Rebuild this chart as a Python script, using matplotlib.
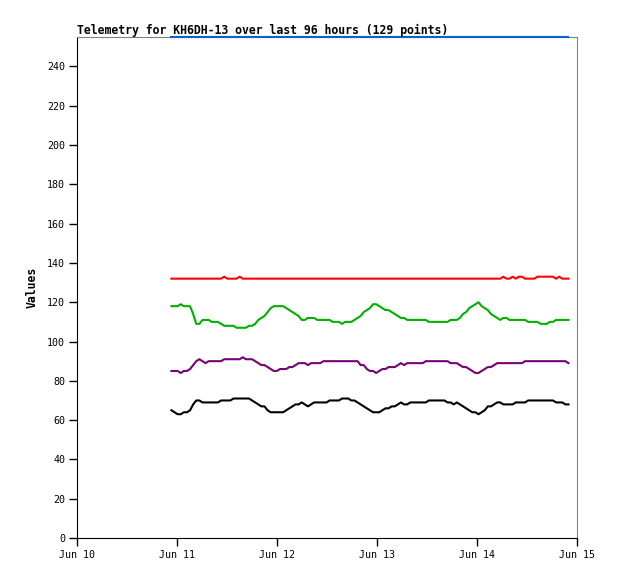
import matplotlib
matplotlib.use("Agg")
import matplotlib.pyplot as plt
import matplotlib.dates as mdates
import pandas as pd

# 129 samples, roughly every 45 minutes
times = pd.date_range("2024-06-10 22:40", periods=129, freq="2680s")

blue = [255] * 129

red = [132] * 129
for i in [17, 22, 107, 110, 112, 113, 118, 119, 120, 121, 122, 123, 125]:
    red[i] = 133

green = [118, 118, 118, 119, 118, 118, 118, 114, 109, 109,
         111, 111, 111, 110, 110, 110, 109, 108, 108, 108,
         108, 107, 107, 107, 107, 108, 108, 109, 111, 112,
         113, 115, 117, 118, 118, 118, 118, 117, 116, 115,
         114, 113, 111, 111, 112, 112, 112, 111, 111, 111,
         111, 111, 110, 110, 110, 109, 110, 110, 110, 111,
         112, 113, 115, 116, 117, 119, 119, 118, 117, 116,
         116, 115, 114, 113, 112, 112, 111, 111, 111, 111,
         111, 111, 111, 110, 110, 110, 110, 110, 110, 110,
         111, 111, 111, 112, 114, 115, 117, 118, 119, 120,
         118, 117, 116, 114, 113, 112, 111, 112, 112, 111,
         111, 111, 111, 111, 111, 110, 110, 110, 110, 109,
         109, 109, 110, 110, 111, 111, 111, 111, 111]

purple = [85, 85, 85, 84, 85, 85, 86, 88, 90, 91,
          90, 89, 90, 90, 90, 90, 90, 91, 91, 91,
          91, 91, 91, 92, 91, 91, 91, 90, 89, 88,
          88, 87, 86, 85, 85, 86, 86, 86, 87, 87,
          88, 89, 89, 89, 88, 89, 89, 89, 89, 90,
          90, 90, 90, 90, 90, 90, 90, 90, 90, 90,
          90, 88, 88, 86, 85, 85, 84, 85, 86, 86,
          87, 87, 87, 88, 89, 88, 89, 89, 89, 89,
          89, 89, 90, 90, 90, 90, 90, 90, 90, 90,
          89, 89, 89, 88, 87, 87, 86, 85, 84, 84,
          85, 86, 87, 87, 88, 89, 89, 89, 89, 89,
          89, 89, 89, 89, 90, 90, 90, 90, 90, 90,
          90, 90, 90, 90, 90, 90, 90, 90, 89]

black = [65, 64, 63, 63, 64, 64, 65, 68, 70, 70,
         69, 69, 69, 69, 69, 69, 70, 70, 70, 70,
         71, 71, 71, 71, 71, 71, 70, 69, 68, 67,
         67, 65, 64, 64, 64, 64, 64, 65, 66, 67,
         68, 68, 69, 68, 67, 68, 69, 69, 69, 69,
         69, 70, 70, 70, 70, 71, 71, 71, 70, 70,
         69, 68, 67, 66, 65, 64, 64, 64, 65, 66,
         66, 67, 67, 68, 69, 68, 68, 69, 69, 69,
         69, 69, 69, 70, 70, 70, 70, 70, 70, 69,
         69, 68, 69, 68, 67, 66, 65, 64, 64, 63,
         64, 65, 67, 67, 68, 69, 69, 68, 68, 68,
         68, 69, 69, 69, 69, 70, 70, 70, 70, 70,
         70, 70, 70, 70, 69, 69, 69, 68, 68]

series = [
    (blue, "#0066cc"),
    (red, "#ff0000"),
    (green, "#00b000"),
    (purple, "#770077"),
    (black, "#000000"),
]

yticks = list(range(0, 241, 20))
day_ticks = pd.date_range("2024-06-10", "2024-06-15", freq="D")

mono = "DejaVu Sans Mono"

fig = plt.figure(figsize=(6.18, 5.79), dpi=100)
ax = fig.add_axes([77 / 618, 41 / 579, 500 / 618, 501 / 579])

for vals, col in series:
    ax.plot(times, vals, color=col, linewidth=1.5, clip_on=False, zorder=3)

ax.set_xlim(day_ticks[0], day_ticks[-1])
ax.set_ylim(0, 255)
ax.set_yticks(yticks)
ax.set_xticks(day_ticks)
ax.xaxis.set_major_formatter(mdates.DateFormatter("%b %d"))

for s in ["left", "bottom"]:
    ax.spines[s].set_color("black")
for s in ["top", "right"]:
    ax.spines[s].set_color("#808080")

ax.tick_params(axis="both", direction="out", length=5.5, width=1, pad=3,
               labelsize=7.2)
for lab in ax.get_xticklabels() + ax.get_yticklabels():
    lab.set_family(mono)

ax.set_title("Telemetry for KH6DH-13 over last 96 hours (129 points)",
             loc="left", family=mono, fontsize=8.3, fontweight="bold", pad=2)
ax.set_ylabel("Values", family=mono, fontsize=8.3, fontweight="bold", labelpad=6)

fig.savefig("out.png", dpi=100)
